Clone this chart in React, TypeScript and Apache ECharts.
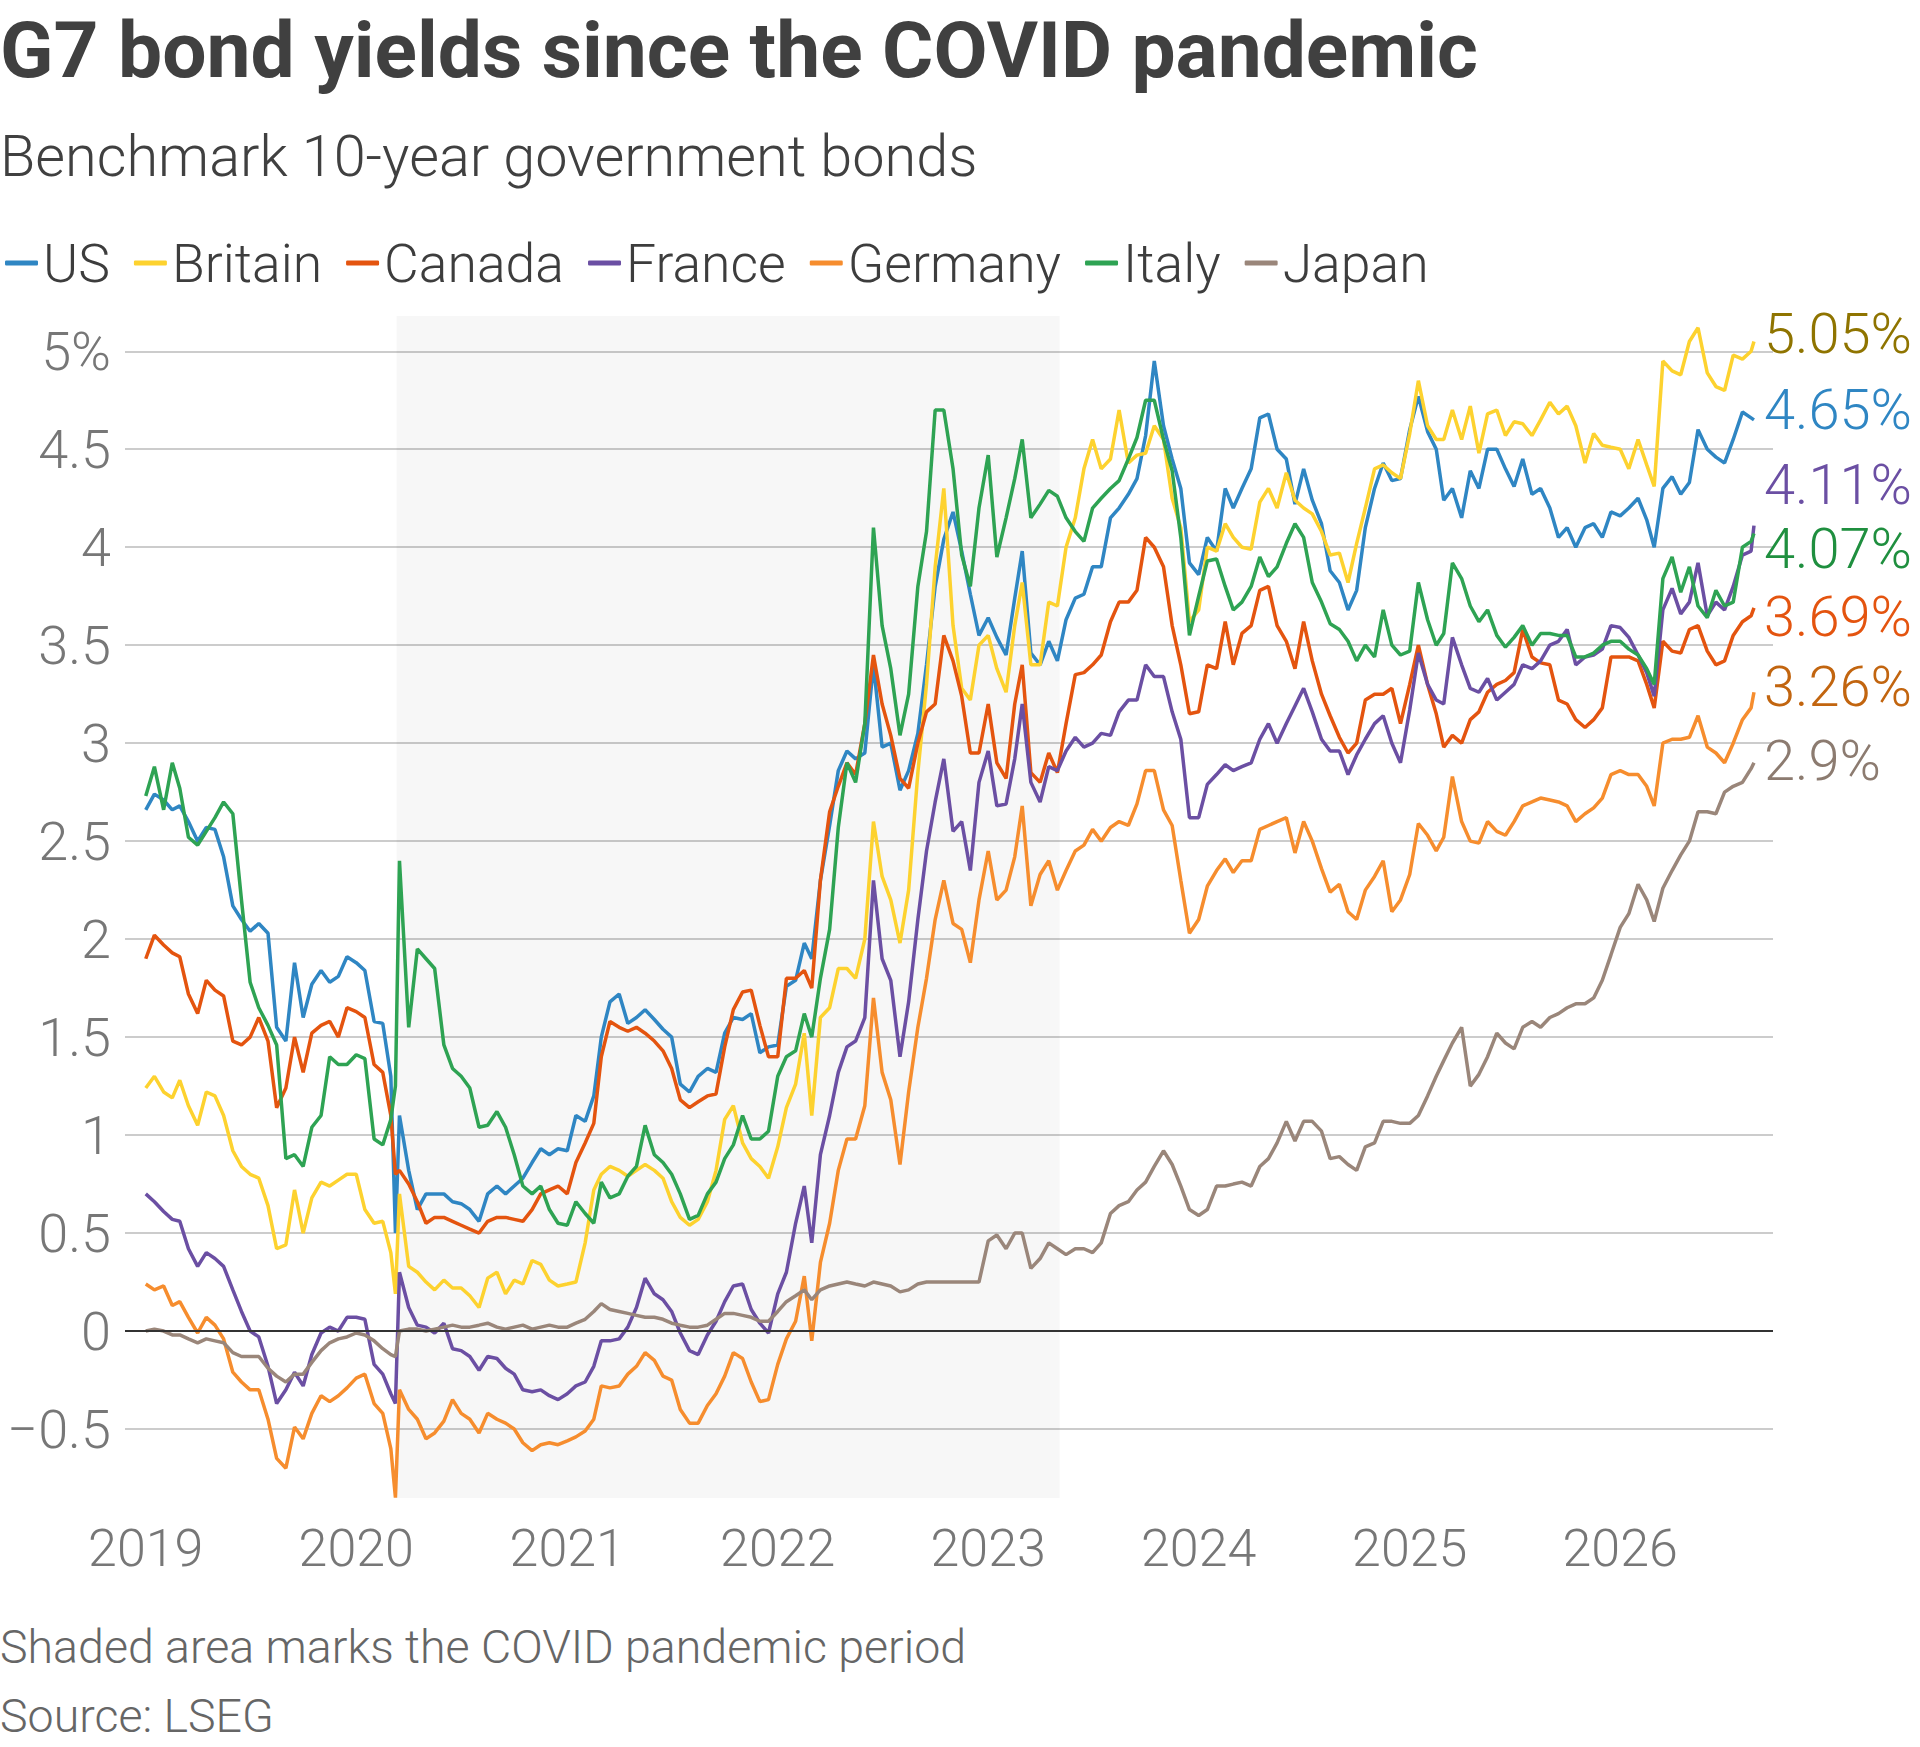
import React, { useEffect, useRef } from "react";
import * as echarts from "echarts";

// ---------- data ----------
const SERIES_NAMES = ["US", "Britain", "Canada", "France", "Germany", "Italy", "Japan"];
const YEAR_TICKS = [2019, 2020, 2021, 2022, 2023, 2024, 2025, 2026];
const COVID_START = "2020-03-11";
const COVID_END = "2023-05-05";

// semi-monthly observation dates (1st and 16th), plus 9 Mar 2020 and the last close
function buildDates(): string[] {
  const out: string[] = [];
  for (let y = 2019; y <= 2026; y++) {
    for (let m = 1; m <= 12; m++) {
      if (y === 2026 && m > 8) continue;
      for (const d of [1, 16]) {
        out.push(`${y}-${String(m).padStart(2, "0")}-${String(d).padStart(2, "0")}`);
        if (y === 2020 && m === 3 && d === 1) out.push("2020-03-09");
      }
    }
  }
  out.push("2026-08-21");
  return out;
}
const DATES = buildDates();

const US = [
  2.66, 2.74, 2.71, 2.66, 2.68, 2.60, 2.50, 2.57, 2.56, 2.42, 2.17, 2.10, 2.04, 2.08, 2.03, 1.55, 1.48, 1.88, 1.60, 1.77, 1.84, 1.78, 1.81, 1.91, 1.88, 1.84, 1.58, 1.57, 1.30, 0.50, 1.10, 0.82, 0.62, 0.70, 0.70, 0.70, 0.66, 0.65, 0.62, 0.56, 0.70, 0.74, 0.70, 0.74, 0.78, 0.86, 0.93, 0.90, 0.93,
  0.92, 1.10, 1.07, 1.20, 1.50, 1.68, 1.72, 1.57, 1.60, 1.64, 1.59, 1.54, 1.50, 1.26, 1.22, 1.30, 1.34, 1.32, 1.52, 1.60, 1.59, 1.62, 1.42, 1.45, 1.46, 1.76, 1.79, 1.98, 1.90, 2.30, 2.58, 2.86, 2.96, 2.92, 2.95, 3.40, 2.98, 3.00, 2.76, 2.86, 3.05, 3.40, 3.80, 4.04, 4.18, 3.98, 3.76, 3.55,
  3.64, 3.54, 3.45, 3.74, 3.98, 3.46, 3.40, 3.52, 3.42, 3.63, 3.74, 3.76, 3.90, 3.90, 4.15, 4.20, 4.27, 4.35, 4.57, 4.95, 4.62, 4.45, 4.30, 3.92, 3.86, 4.05, 3.98, 4.30, 4.20, 4.30, 4.40, 4.66, 4.68, 4.50, 4.45, 4.22, 4.40, 4.24, 4.12, 3.88, 3.82, 3.68, 3.78, 4.10, 4.30, 4.43, 4.34, 4.35,
  4.60, 4.77, 4.59, 4.50, 4.24, 4.30, 4.15, 4.39, 4.30, 4.50, 4.50, 4.40, 4.31, 4.45, 4.27, 4.30, 4.20, 4.05, 4.10, 4.00, 4.10, 4.12, 4.05, 4.18, 4.16, 4.20, 4.25, 4.14, 4.00, 4.30, 4.36, 4.27, 4.33, 4.60, 4.50, 4.46, 4.43, 4.55, 4.69, 4.66, 4.65,
];
const BRITAIN = [
  1.24, 1.30, 1.22, 1.19, 1.28, 1.15, 1.05, 1.22, 1.20, 1.10, 0.92, 0.84, 0.80, 0.78, 0.64, 0.42, 0.44, 0.72, 0.50, 0.68, 0.76, 0.74, 0.77, 0.80, 0.80, 0.62, 0.55, 0.56, 0.40, 0.19, 0.70, 0.33, 0.30, 0.25, 0.21, 0.26, 0.22, 0.22, 0.18, 0.12, 0.27, 0.30, 0.19, 0.26, 0.24, 0.36, 0.34, 0.26, 0.23,
  0.24, 0.25, 0.45, 0.72, 0.80, 0.84, 0.82, 0.79, 0.82, 0.85, 0.82, 0.78, 0.66, 0.58, 0.54, 0.57, 0.66, 0.82, 1.08, 1.15, 0.96, 0.88, 0.84, 0.78, 0.94, 1.14, 1.26, 1.52, 1.10, 1.60, 1.65, 1.85, 1.85, 1.80, 2.00, 2.60, 2.32, 2.20, 1.98, 2.25, 2.85, 3.30, 3.90, 4.30, 3.60, 3.28, 3.22, 3.50,
  3.55, 3.38, 3.26, 3.60, 3.82, 3.40, 3.40, 3.72, 3.70, 4.00, 4.15, 4.40, 4.55, 4.40, 4.45, 4.70, 4.43, 4.47, 4.48, 4.62, 4.55, 4.25, 4.10, 3.62, 3.68, 4.00, 3.98, 4.12, 4.05, 4.00, 3.99, 4.23, 4.30, 4.20, 4.38, 4.24, 4.20, 4.17, 4.08, 3.96, 3.97, 3.82, 4.02, 4.20, 4.40, 4.42, 4.38, 4.35,
  4.58, 4.85, 4.62, 4.55, 4.55, 4.70, 4.55, 4.72, 4.48, 4.68, 4.70, 4.57, 4.64, 4.63, 4.57, 4.65, 4.74, 4.68, 4.72, 4.62, 4.43, 4.58, 4.52, 4.51, 4.50, 4.40, 4.55, 4.42, 4.31, 4.95, 4.90, 4.88, 5.05, 5.12, 4.89, 4.82, 4.80, 4.98, 4.96, 5.00, 5.05,
];
const CANADA = [
  1.90, 2.02, 1.97, 1.93, 1.91, 1.72, 1.62, 1.79, 1.74, 1.71, 1.48, 1.46, 1.50, 1.60, 1.48, 1.14, 1.24, 1.50, 1.32, 1.52, 1.56, 1.58, 1.50, 1.65, 1.63, 1.60, 1.36, 1.32, 1.10, 0.80, 0.82, 0.75, 0.66, 0.55, 0.58, 0.58, 0.56, 0.54, 0.52, 0.50, 0.56, 0.58, 0.58, 0.57, 0.56, 0.62, 0.70, 0.72, 0.74,
  0.70, 0.86, 0.96, 1.06, 1.40, 1.58, 1.55, 1.53, 1.55, 1.52, 1.48, 1.43, 1.34, 1.18, 1.14, 1.17, 1.20, 1.21, 1.45, 1.64, 1.73, 1.74, 1.56, 1.40, 1.40, 1.80, 1.80, 1.84, 1.75, 2.30, 2.65, 2.78, 2.90, 2.84, 3.10, 3.45, 3.20, 3.04, 2.82, 2.77, 3.00, 3.16, 3.20, 3.55, 3.42, 3.24, 2.95, 2.95,
  3.20, 2.90, 2.82, 3.20, 3.40, 2.85, 2.80, 2.95, 2.85, 3.10, 3.35, 3.36, 3.40, 3.45, 3.62, 3.72, 3.72, 3.78, 4.05, 4.00, 3.90, 3.60, 3.40, 3.15, 3.16, 3.40, 3.38, 3.62, 3.40, 3.56, 3.60, 3.78, 3.80, 3.60, 3.52, 3.38, 3.62, 3.42, 3.25, 3.14, 3.03, 2.95, 3.00, 3.22, 3.25, 3.25, 3.28, 3.10,
  3.30, 3.50, 3.30, 3.15, 2.98, 3.04, 3.00, 3.12, 3.16, 3.26, 3.30, 3.32, 3.36, 3.58, 3.44, 3.41, 3.40, 3.22, 3.20, 3.12, 3.08, 3.12, 3.18, 3.44, 3.44, 3.44, 3.42, 3.30, 3.18, 3.52, 3.47, 3.46, 3.58, 3.60, 3.47, 3.40, 3.42, 3.55, 3.62, 3.65, 3.69,
];
const FRANCE = [
  0.70, 0.66, 0.61, 0.57, 0.56, 0.42, 0.33, 0.40, 0.37, 0.33, 0.21, 0.10, 0.00, -0.03, -0.18, -0.37, -0.30, -0.21, -0.28, -0.12, -0.01, 0.02, 0.00, 0.07, 0.07, 0.06, -0.17, -0.22, -0.32, -0.37, 0.30, 0.12, 0.03, 0.02, -0.01, 0.04, -0.09, -0.10, -0.13, -0.20, -0.13, -0.14, -0.19, -0.22, -0.30, -0.31, -0.30, -0.33, -0.35,
  -0.32, -0.28, -0.26, -0.18, -0.05, -0.05, -0.04, 0.02, 0.12, 0.27, 0.19, 0.16, 0.10, -0.01, -0.10, -0.12, -0.02, 0.05, 0.15, 0.23, 0.24, 0.11, 0.04, -0.01, 0.19, 0.30, 0.55, 0.74, 0.45, 0.90, 1.10, 1.32, 1.45, 1.48, 1.60, 2.30, 1.90, 1.79, 1.40, 1.68, 2.10, 2.45, 2.70, 2.92, 2.55, 2.60, 2.35, 2.80,
  2.96, 2.68, 2.69, 2.92, 3.20, 2.80, 2.70, 2.88, 2.86, 2.96, 3.03, 2.98, 3.00, 3.05, 3.04, 3.16, 3.22, 3.22, 3.40, 3.34, 3.34, 3.16, 3.02, 2.62, 2.62, 2.79, 2.84, 2.89, 2.86, 2.88, 2.90, 3.02, 3.10, 3.00, 3.10, 3.19, 3.28, 3.16, 3.02, 2.96, 2.96, 2.84, 2.94, 3.02, 3.10, 3.14, 3.00, 2.90,
  3.17, 3.46, 3.30, 3.22, 3.20, 3.54, 3.40, 3.28, 3.26, 3.33, 3.22, 3.26, 3.30, 3.40, 3.38, 3.42, 3.50, 3.52, 3.58, 3.40, 3.44, 3.45, 3.48, 3.60, 3.59, 3.54, 3.45, 3.36, 3.24, 3.68, 3.79, 3.66, 3.72, 3.92, 3.65, 3.72, 3.68, 3.80, 3.96, 3.98, 4.11,
];
const GERMANY = [
  0.24, 0.21, 0.23, 0.13, 0.15, 0.07, -0.01, 0.07, 0.03, -0.04, -0.21, -0.26, -0.30, -0.30, -0.45, -0.65, -0.70, -0.49, -0.55, -0.42, -0.33, -0.36, -0.33, -0.29, -0.24, -0.22, -0.37, -0.42, -0.60, -0.85, -0.30, -0.40, -0.45, -0.55, -0.52, -0.46, -0.35, -0.42, -0.45, -0.52, -0.42, -0.45, -0.47, -0.50, -0.57, -0.61, -0.58, -0.57, -0.58,
  -0.56, -0.54, -0.51, -0.45, -0.28, -0.29, -0.28, -0.22, -0.18, -0.11, -0.15, -0.23, -0.25, -0.40, -0.47, -0.47, -0.38, -0.32, -0.23, -0.11, -0.14, -0.26, -0.36, -0.35, -0.17, -0.04, 0.05, 0.28, -0.05, 0.35, 0.55, 0.82, 0.98, 0.98, 1.15, 1.70, 1.32, 1.18, 0.85, 1.22, 1.55, 1.80, 2.10, 2.30, 2.08, 2.05, 1.88, 2.20,
  2.45, 2.20, 2.25, 2.42, 2.68, 2.17, 2.33, 2.40, 2.25, 2.35, 2.45, 2.48, 2.56, 2.50, 2.57, 2.60, 2.58, 2.69, 2.86, 2.86, 2.66, 2.58, 2.30, 2.03, 2.10, 2.27, 2.35, 2.41, 2.34, 2.40, 2.40, 2.56, 2.58, 2.60, 2.62, 2.44, 2.60, 2.50, 2.36, 2.24, 2.28, 2.14, 2.10, 2.25, 2.32, 2.40, 2.14, 2.20,
  2.33, 2.59, 2.53, 2.45, 2.52, 2.83, 2.60, 2.50, 2.49, 2.60, 2.55, 2.53, 2.60, 2.68, 2.70, 2.72, 2.71, 2.70, 2.68, 2.60, 2.64, 2.67, 2.72, 2.84, 2.86, 2.84, 2.84, 2.78, 2.68, 3.00, 3.02, 3.02, 3.03, 3.14, 2.98, 2.95, 2.90, 3.00, 3.12, 3.18, 3.26,
];
const ITALY = [
  2.73, 2.88, 2.66, 2.90, 2.77, 2.52, 2.48, 2.55, 2.62, 2.70, 2.64, 2.20, 1.78, 1.65, 1.56, 1.46, 0.88, 0.90, 0.84, 1.04, 1.10, 1.40, 1.36, 1.36, 1.41, 1.39, 0.98, 0.95, 1.08, 1.25, 2.40, 1.55, 1.95, 1.90, 1.85, 1.46, 1.34, 1.30, 1.24, 1.04, 1.05, 1.12, 1.04, 0.90, 0.74, 0.70, 0.74, 0.62, 0.55,
  0.54, 0.66, 0.60, 0.55, 0.76, 0.68, 0.70, 0.79, 0.84, 1.05, 0.90, 0.86, 0.80, 0.70, 0.57, 0.59, 0.70, 0.76, 0.88, 0.95, 1.10, 0.98, 0.98, 1.02, 1.30, 1.40, 1.43, 1.62, 1.50, 1.80, 2.05, 2.57, 2.90, 2.80, 3.10, 4.10, 3.60, 3.38, 3.04, 3.25, 3.80, 4.08, 4.70, 4.70, 4.40, 3.96, 3.80, 4.20,
  4.47, 3.95, 4.15, 4.35, 4.55, 4.15, 4.22, 4.29, 4.26, 4.15, 4.08, 4.03, 4.20, 4.25, 4.30, 4.34, 4.45, 4.56, 4.75, 4.75, 4.55, 4.39, 4.05, 3.55, 3.75, 3.93, 3.94, 3.80, 3.68, 3.72, 3.80, 3.95, 3.85, 3.90, 4.02, 4.12, 4.05, 3.82, 3.72, 3.61, 3.58, 3.52, 3.42, 3.50, 3.44, 3.68, 3.50, 3.45,
  3.47, 3.82, 3.63, 3.50, 3.56, 3.92, 3.84, 3.70, 3.62, 3.68, 3.55, 3.49, 3.54, 3.60, 3.50, 3.56, 3.56, 3.55, 3.55, 3.44, 3.44, 3.46, 3.50, 3.52, 3.52, 3.48, 3.45, 3.38, 3.30, 3.84, 3.95, 3.77, 3.90, 3.70, 3.64, 3.78, 3.70, 3.72, 4.00, 4.03, 4.07,
];
const JAPAN = [
  0.00, 0.01, 0.00, -0.02, -0.02, -0.04, -0.06, -0.04, -0.05, -0.06, -0.11, -0.13, -0.13, -0.13, -0.19, -0.23, -0.26, -0.22, -0.22, -0.16, -0.10, -0.06, -0.04, -0.03, -0.01, -0.02, -0.05, -0.09, -0.12, -0.13, 0.00, 0.01, 0.01, 0.00, 0.01, 0.02, 0.03, 0.02, 0.02, 0.03, 0.04, 0.02, 0.01, 0.02, 0.03, 0.01, 0.02, 0.03, 0.02,
  0.02, 0.04, 0.06, 0.10, 0.14, 0.11, 0.10, 0.09, 0.08, 0.07, 0.07, 0.06, 0.04, 0.03, 0.02, 0.02, 0.03, 0.06, 0.09, 0.09, 0.08, 0.07, 0.05, 0.05, 0.10, 0.15, 0.18, 0.21, 0.16, 0.21, 0.23, 0.24, 0.25, 0.24, 0.23, 0.25, 0.24, 0.23, 0.20, 0.21, 0.24, 0.25, 0.25, 0.25, 0.25, 0.25, 0.25, 0.25,
  0.46, 0.49, 0.42, 0.50, 0.50, 0.32, 0.37, 0.45, 0.42, 0.39, 0.42, 0.42, 0.40, 0.45, 0.60, 0.64, 0.66, 0.72, 0.76, 0.84, 0.92, 0.85, 0.74, 0.62, 0.59, 0.62, 0.74, 0.74, 0.75, 0.76, 0.74, 0.84, 0.88, 0.96, 1.07, 0.97, 1.07, 1.07, 1.02, 0.88, 0.89, 0.85, 0.82, 0.94, 0.96, 1.07, 1.07, 1.06,
  1.06, 1.10, 1.20, 1.30, 1.38, 1.47, 1.55, 1.25, 1.31, 1.40, 1.52, 1.47, 1.44, 1.55, 1.58, 1.55, 1.60, 1.62, 1.65, 1.67, 1.67, 1.70, 1.79, 1.92, 2.06, 2.13, 2.28, 2.20, 2.09, 2.26, 2.35, 2.43, 2.50, 2.65, 2.65, 2.64, 2.75, 2.78, 2.80, 2.87, 2.90,
];
const SERIES_VALUES = [US, BRITAIN, CANADA, FRANCE, GERMANY, ITALY, JAPAN];

// ---------- styles ----------
const LINE_COLORS = ["#2f86c3", "#fdd22f", "#e4540f", "#6b4fa3", "#f68d2e", "#2ea353", "#9a867a"];
const LABEL_COLORS = ["#2f86c3", "#8f7400", "#e4540f", "#6b4fa3", "#c2650f", "#1f8f3f", "#8c7b70"];
const LABEL_DY = [-10, -7.5, 9, -40.5, -5, 15.5, -1.5];
const FONT = "Roboto";

function ts(s: string): number {
  const [y, m, d] = s.split("-").map(Number);
  return new Date(y, m - 1, d).getTime();
}

export default function App() {
  const ref = useRef<HTMLDivElement>(null);

  useEffect(() => {
    document.body.style.margin = "0";
    if (!ref.current) return;
    const chart = echarts.init(ref.current, undefined, { renderer: "svg" });

    const series: any[] = SERIES_NAMES.map((name, i) => {
      const vals = SERIES_VALUES[i];
      const s: any = {
        name,
        type: "line",
        data: DATES.map((d, j) => [ts(d), vals[j]]),
        showSymbol: false,
        symbol: "none",
        lineStyle: { color: LINE_COLORS[i], width: 3.5 },
        itemStyle: { color: LINE_COLORS[i] },
        emphasis: { disabled: true },
        endLabel: {
          show: true,
          distance: 10,
          offset: [0, LABEL_DY[i]],
          formatter: (p: any) => `${p.value[1]}%`,
          color: LABEL_COLORS[i],
          fontFamily: FONT,
          fontSize: 56,
          fontWeight: 300,
        },
        z: 3,
      };
      if (i === 0) {
        s.markArea = {
          silent: true,
          itemStyle: { color: "rgba(0,0,0,0.03)" },
          data: [[{ xAxis: ts(COVID_START) }, { xAxis: ts(COVID_END) }]],
        };
      }
      if (i === SERIES_NAMES.length - 1) {
        s.markLine = {
          silent: true,
          symbol: ["none", "none"],
          label: { show: false },
          lineStyle: { color: "#333333", width: 2, type: "solid" },
          data: [{ yAxis: 0 }],
        };
      }
      return s;
    });

    chart.setOption({
      animation: false,
      textStyle: { fontFamily: FONT },
      grid: { left: 125, right: 147, top: 316, bottom: 249, containLabel: false },
      legend: {
        left: 0,
        top: 228,
        icon: "roundRect",
        itemWidth: 33,
        itemHeight: 5,
        itemGap: 24,
        selectedMode: false,
        textStyle: { fontFamily: FONT, fontSize: 53.5, color: "#3d3d3d", fontWeight: 300, lineHeight: 60 },
        data: SERIES_NAMES,
      },
      xAxis: {
        type: "value",
        min: ts("2018-11-26"),
        max: ts("2026-09-23"),
        axisLine: { show: false },
        axisTick: { show: false },
        splitLine: { show: false },
        axisLabel: {
          customValues: YEAR_TICKS.map((y) => new Date(y, 0, 1).getTime()),
          formatter: (v: number) => String(new Date(v).getFullYear()),
          color: "#777777",
          fontFamily: FONT,
          fontSize: 52,
          fontWeight: 300,
          lineHeight: 52,
          margin: 24,
        },
      },
      yAxis: {
        type: "value",
        min: -0.852,
        max: 5.18,
        splitNumber: 12,
        axisLine: { show: false },
        axisTick: { show: false },
        axisLabel: {
          showMinLabel: false,
          showMaxLabel: false,
          margin: 14,
          color: "#777777",
          fontFamily: FONT,
          fontSize: 54,
          fontWeight: 300,
          padding: [8, 0, 0, 0],
          formatter: (v: number) => (v === 5 ? "5%" : String(v).replace("-", "\u2212")),
        },
        splitLine: {
          show: true,
          showMinLine: false,
          showMaxLine: false,
          lineStyle: { color: "#cccccc", width: 2 },
        },
      },
      graphic: [
        {
          type: "text",
          x: 0,
          y: 50,
          style: {
            text: "G7 bond yields since the COVID pandemic",
            fontFamily: FONT,
            fontWeight: "bold",
            fontSize: 78.5,
            fill: "#404040",
            verticalAlign: "middle",
          },
        },
        {
          type: "text",
          x: 0,
          y: 156,
          style: {
            text: "Benchmark 10-year government bonds",
            fontFamily: FONT,
            fontWeight: 300,
            fontSize: 57.6,
            fill: "#404040",
            verticalAlign: "middle",
          },
        },
        {
          type: "text",
          x: 0,
          y: 1647,
          style: {
            text: "Shaded area marks the COVID pandemic period",
            fontFamily: FONT,
            fontWeight: 300,
            fontSize: 46.5,
            fill: "#666666",
            verticalAlign: "middle",
          },
        },
        {
          type: "text",
          x: 0,
          y: 1716,
          style: {
            text: "Source: LSEG",
            fontFamily: FONT,
            fontWeight: 300,
            fontSize: 46.5,
            fill: "#666666",
            verticalAlign: "middle",
          },
        },
      ],
      series,
    });

    return () => chart.dispose();
  }, []);

  return <div ref={ref} style={{ width: 1920, height: 1747 }} />;
}
